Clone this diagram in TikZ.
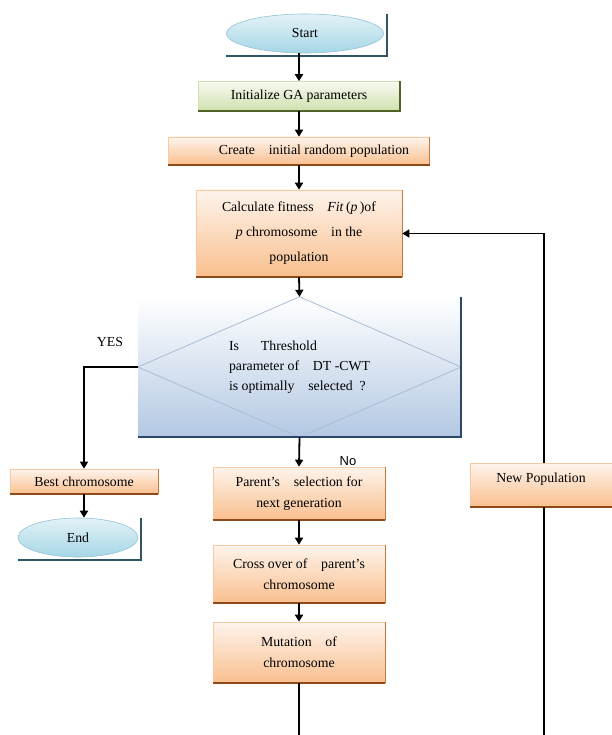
\documentclass[tikz,border=0pt]{standalone}
\usepackage{fontspec}
\setmainfont{Liberation Serif}
\setsansfont{Liberation Sans}
\usetikzlibrary{shapes.geometric,arrows.meta,calc}

\definecolor{orangetop}{HTML}{FEF4EC}
\definecolor{orangebot}{HTML}{F9BF8E}
\definecolor{orangeedge}{HTML}{F6C9A2}
\definecolor{orangedark}{HTML}{8E4A16}
\definecolor{orangeside}{HTML}{C8763A}
\definecolor{greentop}{HTML}{F7FAF1}
\definecolor{greenbot}{HTML}{D0E0AE}
\definecolor{greendark}{HTML}{4F6228}
\definecolor{ovaltop}{HTML}{E3F2F7}
\definecolor{ovalbot}{HTML}{A6D6E6}
\definecolor{ovaledge}{HTML}{93C3D4}
\definecolor{ovaldark}{HTML}{2F5466}
\definecolor{dectop}{HTML}{FFFFFF}
\definecolor{decbot}{HTML}{B3C8E3}
\definecolor{decdark}{HTML}{2C4767}
\definecolor{decline}{HTML}{A9BDD5}

\begin{document}
\begin{tikzpicture}[x=1pt,y=-1pt,
    every node/.style={font=\fontsize{13.8}{21}\selectfont},
    procbox/.style={rectangle, draw=orangeedge, line width=0.6pt,
        top color=orangetop, bottom color=orangebot, align=center, inner sep=2pt},
    initbox/.style={procbox, draw=greenbot, top color=greentop, bottom color=greenbot},
    terminal/.style={ellipse, draw=ovaledge, line width=0.6pt,
        top color=ovaltop, bottom color=ovalbot, inner sep=1pt},
    decbox/.style={rectangle, top color=dectop, bottom color=decbot,
        align=left, font=\fontsize{13.8}{20}\selectfont},
    arr/.style={-{Triangle[length=7pt,width=8pt]}, line width=1.8pt},
    loopline/.style={line width=1.2pt}]

\useasboundingbox (0,0) rectangle (611,735);

% main column
\node[terminal, minimum width=157pt, minimum height=39pt] (start) at (305,33.5) {Start};
\node[initbox, minimum width=201pt, minimum height=29pt] (init) at (299,96) {Initialize GA parameters};
\node[procbox, minimum width=261pt, minimum height=28pt] (create) at (299,151)
    {\hspace*{30pt}Create\quad initial random population};
\node[procbox, minimum width=206pt, minimum height=87pt,
      font=\fontsize{13.8}{25}\selectfont] (calc) at (299,233.5)
    {Calculate fitness\quad \textit{Fit}\,(\textit{p}\,)of\\
     \textit{p} chromosome\quad in the\\ population};
\node[decbox, minimum width=323pt, minimum height=140pt] (dec) at (299.5,367)
    {Is\hspace{22pt}Threshold\\ parameter of\quad DT -CWT\\ is optimally\quad selected\ \ ?};
\draw[decline, line width=0.8pt] (dec.north) -- (dec.east) -- (dec.south) -- (dec.west) -- cycle;
\node[procbox, minimum width=172pt, minimum height=53pt] (sel) at (299,493.5)
    {Parent's\quad selection for\\ next generation};
\node[procbox, minimum width=172pt, minimum height=58pt] (cross) at (299,574)
    {Cross over of\quad parent's\\ chromosome};
\node[procbox, minimum width=172pt, minimum height=61pt] (mut) at (299,652.5)
    {Mutation\quad of\\ chromosome};

% left branch
\node[procbox, minimum width=148pt, minimum height=25pt] (best) at (84,481.5) {Best chromosome};
\node[terminal, minimum width=120pt, minimum height=39pt] (stop) at (78,537.5) {End};

% right branch
\node[procbox, minimum width=142pt, minimum height=44pt, text depth=14.5pt] (newpop) at (541,485) {New Population};

\node (yes) at (110,342) {YES};
\node[font=\sffamily\fontsize{13}{15}\selectfont] (no) at (348,461) {No};

% darker lower and right edges
\foreach \n in {create,calc,best,sel,cross,mut,newpop} {
    \draw[orangeside, line width=1pt] (\n.south east) -- (\n.north east);
    \draw[orangedark, line width=1.8pt] (\n.south west) -- (\n.south east);
}
\draw[greendark, line width=1.5pt] (init.south west) -- (init.south east) -- (init.north east);
\draw[decdark, line width=1.6pt] (dec.south west) -- (dec.south east) -- (dec.north east);
\foreach \n in {start,stop}
    \draw[ovaldark, line width=1.8pt] ($(\n.east |- \n.north)+(3,0)$) |- ($(\n.west |- \n.south)+(0,3)$);

% connectors
\draw[arr] (init.north |- start.south) -- (init.north);
\foreach \a/\b in {init/create, create/calc, calc/dec, dec/sel, sel/cross, cross/mut}
    \draw[arr] (\a.south) -- (\b.north);
\draw[arr, line width=1.4pt] (dec.west) -| (best.north);
\draw[arr] (best.south) -- (best.south |- stop.north);

\coordinate (turn) at (544,745);
\draw[loopline] (mut.south) |- (turn) -- (turn |- newpop.south);
\draw[arr, line width=1.4pt] (turn |- newpop.north) |- (calc.east);
\end{tikzpicture}
\end{document}
